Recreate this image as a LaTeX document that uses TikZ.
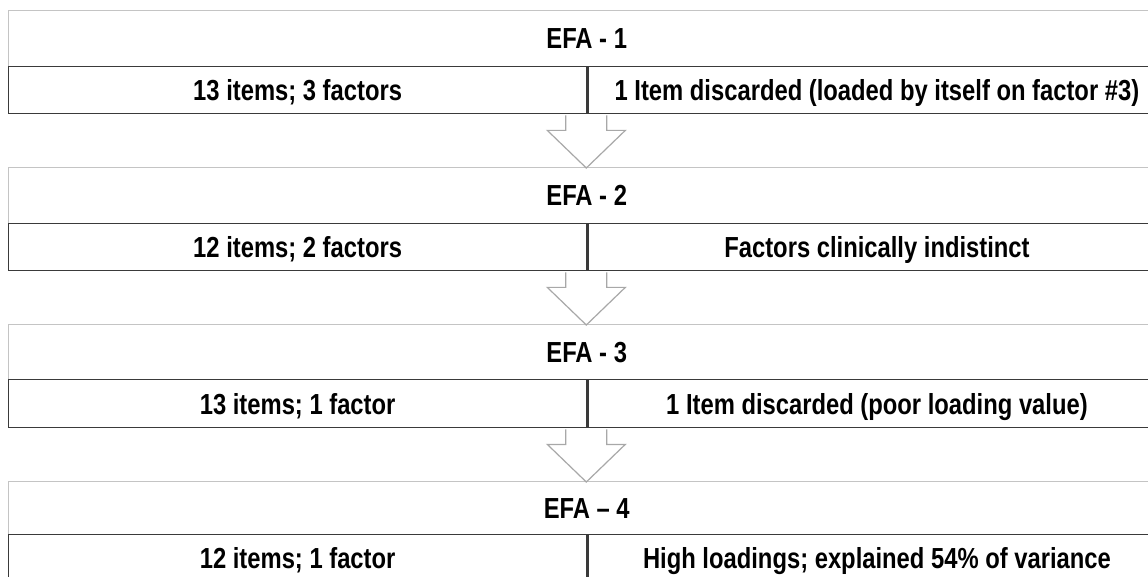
\documentclass[tikz,border=0pt]{standalone}
\usepackage{fontspec}
\newfontfamily\nb{Liberation Sans}[FakeStretch=0.82]
\usetikzlibrary{calc}
\definecolor{outerc}{HTML}{C4C4C4}
\definecolor{innerc}{HTML}{3A3A3A}
\definecolor{arrowc}{HTML}{A8A8A8}
\begin{document}
\begin{tikzpicture}[x=1pt,y=-1pt,
  txt/.style={font=\nb\bfseries\fontsize{29}{34}\selectfont, text height=21pt, text depth=0pt, inner sep=0pt},
  outerbox/.style={draw=outerc, line width=1.4pt, fill=white, rectangle, minimum width=1156pt, anchor=north west, inner sep=0pt},
  cellbox/.style={txt, draw=innerc, line width=1.3pt, rectangle, minimum width=578pt, anchor=south west},
  titletxt/.style={txt},
  blockarrow/.style={draw=arrowc, line width=1.2pt, fill=white, line join=miter}
]
\useasboundingbox (0,0) rectangle (1148,577);
\clip (0,0) rectangle (1148,577);
\fill[white] (0,0) rectangle (1148,577);

% stage 1
\node[outerbox, minimum height=103pt] (s1) at (8,10) {};
\node[cellbox, minimum height=47pt] (l1) at (s1.south west) {13 items; 3 factors};
\node[cellbox, minimum height=47pt] (r1) at (l1.south east) {1 Item discarded (loaded by itself on factor \#3)};
\node[titletxt] (t1) at ($(s1.north)!0.5!(s1.north |- l1.north)$) {EFA - 1};

% stage 2
\node[outerbox, minimum height=103pt] (s2) at (8,167) {};
\node[cellbox, minimum height=47pt] (l2) at (s2.south west) {12 items; 2 factors};
\node[cellbox, minimum height=47pt] (r2) at (l2.south east) {Factors clinically indistinct};
\node[titletxt] (t2) at ($(s2.north)!0.5!(s2.north |- l2.north)$) {EFA - 2};

% stage 3
\node[outerbox, minimum height=103pt] (s3) at (8,324) {};
\node[cellbox, minimum height=48pt] (l3) at (s3.south west) {13 items; 1 factor};
\node[cellbox, minimum height=48pt] (r3) at (l3.south east) {1 Item discarded (poor loading value)};
\node[titletxt] (t3) at ($(s3.north)!0.5!(s3.north |- l3.north)$) {EFA - 3};

% stage 4
\node[outerbox, minimum height=100pt] (s4) at (8,481) {};
\node[cellbox, minimum height=47pt] (l4) at (s4.south west) {12 items; 1 factor};
\node[cellbox, minimum height=47pt] (r4) at (l4.south east) {High loadings; explained 54\% of variance};
\node[titletxt] (t4) at ($(s4.north)!0.5!(s4.north |- l4.north)$) {EFA – 4};

% block arrows
\foreach \a/\b in {1/2,2/3,3/4}{
  \draw[blockarrow]
    ($(l\a.south east)+(-21.5,0.9)$) -- ($(l\a.south east)+(-21.5,16)$)
    -- ($(l\a.south east)+(-40,16)$)
    -- ($(l\a.south east |- s\b.north)+(-1,1)$)
    -- ($(l\a.south east)+(38,16)$)
    -- ($(l\a.south east)+(19.5,16)$)
    -- ($(l\a.south east)+(19.5,0.9)$);
}
\end{tikzpicture}
\end{document}
